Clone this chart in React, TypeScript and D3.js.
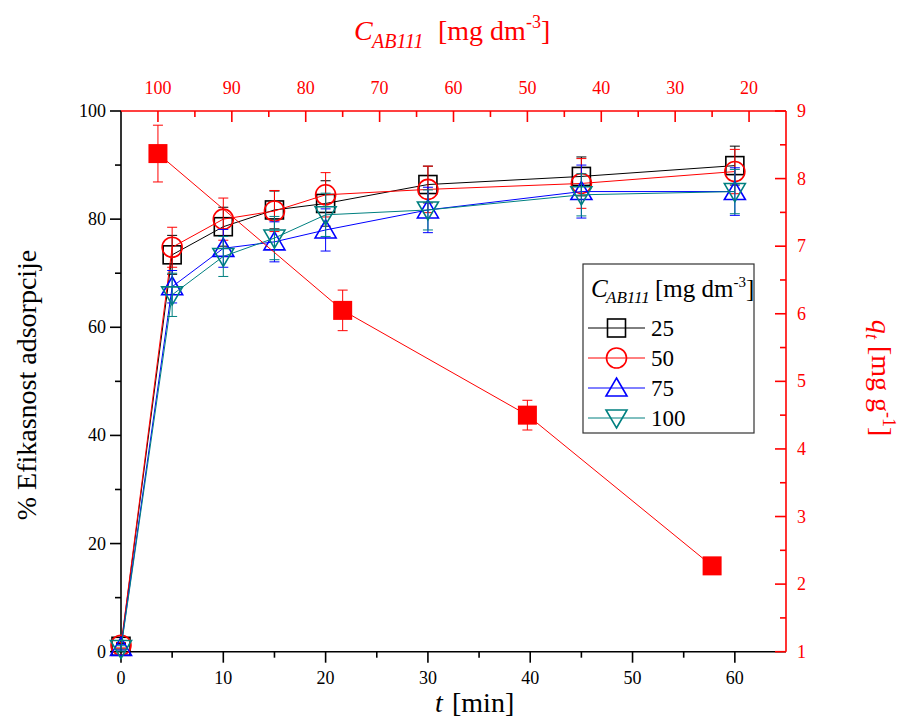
import React from "react";
import * as d3 from "d3";

// ---- data ----
const times = [0, 5, 10, 15, 20, 30, 45, 60];
const eff25 = [1.0, 73.4, 78.6, 81.7, 82.9, 86.4, 87.9, 89.9];
const err25 = [0.5, 3.6, 3.6, 3.5, 4.2, 3.4, 3.6, 3.6];
const eff50 = [1.2, 74.8, 80.0, 81.5, 84.5, 85.5, 86.6, 88.8];
const err50 = [0.5, 3.7, 3.9, 3.8, 4.1, 4.3, 4.6, 4.1];
const eff75 = [0.8, 67.5, 74.6, 75.8, 78.0, 81.7, 85.1, 85.1];
const err75 = [0.5, 3.0, 3.5, 3.7, 3.9, 4.2, 4.9, 4.4];
const eff100 = [0.6, 66.0, 73.1, 76.5, 80.8, 81.7, 84.5, 85.1];
const err100 = [0.5, 4.0, 3.7, 4.0, 4.0, 3.7, 3.9, 4.1];

const concC = [100, 75, 50, 25];
const qt = [8.37, 6.05, 4.5, 2.27];
const qtErr = [0.42, 0.3, 0.22, 0.05];

const bottomTicks = [0, 10, 20, 30, 40, 50, 60];
const bottomMinor = [5, 15, 25, 35, 45, 55];
const leftTicks = [0, 20, 40, 60, 80, 100];
const leftMinor = [10, 30, 50, 70, 90];
const topTicks = [100, 90, 80, 70, 60, 50, 40, 30, 20];
const topMinor = [95, 85, 75, 65, 55, 45, 35, 25];
const rightTicks = [1, 2, 3, 4, 5, 6, 7, 8, 9];
const rightMinor = [1.5, 2.5, 3.5, 4.5, 5.5, 6.5, 7.5, 8.5];

const legendLabels = ["25", "50", "75", "100"];

const FONT = "'Liberation Serif', 'Times New Roman', 'DejaVu Serif', serif";
const RED = "#ff0000";

const L = 121, R = 786, T = 111, B = 651.7;
const x = d3.scaleLinear().domain([0, 65]).range([L, R]);
const xTop = d3.scaleLinear().domain([105, 15]).range([L, R]);
const y = d3.scaleLinear().domain([0, 100]).range([B, T]);
const yR = d3.scaleLinear().domain([1, 9]).range([B, T]);

type Shape = "square" | "circle" | "up" | "down";
const series: { vals: number[]; errs: number[]; color: string; shape: Shape }[] = [
  { vals: eff25, errs: err25, color: "#000000", shape: "square" },
  { vals: eff50, errs: err50, color: "#ff0000", shape: "circle" },
  { vals: eff75, errs: err75, color: "#0000ff", shape: "up" },
  { vals: eff100, errs: err100, color: "#008080", shape: "down" },
];

function Marker({ shape, cx, cy, color }: { shape: Shape; cx: number; cy: number; color: string }) {
  const sw = 1.6;
  if (shape === "square")
    return <rect x={cx - 9} y={cy - 9} width={18} height={18} fill="none" stroke={color} strokeWidth={sw} />;
  if (shape === "circle") return <circle cx={cx} cy={cy} r={10} fill="none" stroke={color} strokeWidth={sw} />;
  if (shape === "up")
    return (
      <polygon
        points={`${cx},${cy - 10} ${cx + 10.5},${cy + 8} ${cx - 10.5},${cy + 8}`}
        fill="none"
        stroke={color}
        strokeWidth={sw}
      />
    );
  return (
    <polygon
      points={`${cx},${cy + 10} ${cx + 10.5},${cy - 8} ${cx - 10.5},${cy - 8}`}
      fill="none"
      stroke={color}
      strokeWidth={sw}
    />
  );
}

function ErrBar({ cx, y1, y2, color }: { cx: number; y1: number; y2: number; color: string }) {
  return (
    <g stroke={color} strokeWidth={1}>
      <line x1={cx} x2={cx} y1={y1} y2={y2} />
      <line x1={cx - 5} x2={cx + 5} y1={y1} y2={y1} />
      <line x1={cx - 5} x2={cx + 5} y1={y2} y2={y2} />
    </g>
  );
}

export default function App() {
  const line = d3
    .line<number>()
    .x((_, i) => x(times[i]))
    .y((v) => y(v));
  const qLine = d3
    .line<number>()
    .x((_, i) => xTop(concC[i]))
    .y((v) => yR(v));

  const legX = 583, legY = 264, legW = 171, legH = 169;
  const rowY = [328, 358, 388, 418];

  return (
    <svg
      width={900}
      height={719}
      style={{ position: "absolute", left: 0, top: 0, background: "#fff", fontFamily: FONT }}
      fontFamily={FONT}
    >
      <style>{`text, tspan { font-family: ${FONT}; }`}</style>
      <rect x={0} y={0} width={900} height={719} fill="#fff" />

      {/* bottom axis */}
      <line x1={L} x2={R} y1={B} y2={B} stroke="#000" strokeWidth={1.6} />
      {bottomTicks.map((t) => (
        <g key={"bt" + t}>
          <line x1={x(t)} x2={x(t)} y1={B} y2={B + 11} stroke="#000" strokeWidth={1.6} />
          <text x={x(t)} y={684} textAnchor="middle" fontSize={18}>{t}</text>
        </g>
      ))}
      {bottomMinor.map((t) => (
        <line key={"bm" + t} x1={x(t)} x2={x(t)} y1={B} y2={B + 6} stroke="#000" strokeWidth={1.6} />
      ))}

      {/* left axis */}
      <line x1={L} x2={L} y1={T} y2={B} stroke="#000" strokeWidth={1.6} />
      {leftTicks.map((v) => (
        <g key={"lt" + v}>
          <line x1={L - 11} x2={L} y1={y(v)} y2={y(v)} stroke="#000" strokeWidth={1.6} />
          <text x={106} y={y(v) + 6} textAnchor="end" fontSize={18}>{v}</text>
        </g>
      ))}
      {leftMinor.map((v) => (
        <line key={"lm" + v} x1={L - 6} x2={L} y1={y(v)} y2={y(v)} stroke="#000" strokeWidth={1.6} />
      ))}

      {/* top axis (red) */}
      <line x1={L} x2={R} y1={T} y2={T} stroke={RED} strokeWidth={1.6} />
      {topTicks.map((c) => (
        <g key={"tt" + c}>
          <line x1={xTop(c)} x2={xTop(c)} y1={T} y2={T + 11} stroke={RED} strokeWidth={1.6} />
          <text x={xTop(c)} y={94} textAnchor="middle" fontSize={18} fill={RED}>{c}</text>
        </g>
      ))}
      {topMinor.map((c) => (
        <line key={"tm" + c} x1={xTop(c)} x2={xTop(c)} y1={T} y2={T + 6} stroke={RED} strokeWidth={1.6} />
      ))}

      {/* right axis (red) */}
      <line x1={R} x2={R} y1={T} y2={B} stroke={RED} strokeWidth={1.6} />
      {rightTicks.map((q) => (
        <g key={"rt" + q}>
          <line x1={R - 11} x2={R} y1={yR(q)} y2={yR(q)} stroke={RED} strokeWidth={1.6} />
          <text x={797} y={yR(q) + 6} textAnchor="start" fontSize={18} fill={RED}>{q}</text>
        </g>
      ))}
      {rightMinor.map((q) => (
        <line key={"rm" + q} x1={R - 6} x2={R} y1={yR(q)} y2={yR(q)} stroke={RED} strokeWidth={1.6} />
      ))}

      {/* efficiency series */}
      {series.map((s, si) => (
        <g key={"s" + si}>
          <path d={line(s.vals) || ""} fill="none" stroke={s.color} strokeWidth={1} />
          {s.vals.map((v, i) => (
            <ErrBar key={"e" + i} cx={x(times[i])} y1={y(v + s.errs[i])} y2={y(v - s.errs[i])} color={s.color} />
          ))}
          {s.vals.map((v, i) => (
            <Marker key={"m" + i} shape={s.shape} cx={x(times[i])} cy={y(v)} color={s.color} />
          ))}
        </g>
      ))}

      {/* q_t series */}
      <path d={qLine(qt) || ""} fill="none" stroke={RED} strokeWidth={1} />
      {qt.map((q, i) => (
        <g key={"q" + i}>
          <ErrBar cx={xTop(concC[i])} y1={yR(q + qtErr[i])} y2={yR(q - qtErr[i])} color={RED} />
          <rect x={xTop(concC[i]) - 9.5} y={yR(q) - 9.5} width={19} height={19} fill={RED} />
        </g>
      ))}

      {/* legend */}
      <rect x={legX} y={legY} width={legW} height={legH} fill="#fff" stroke="#333" strokeWidth={1.2} />
      <text y={297} fontSize={25}>
        <tspan x={591} fontStyle="italic">C</tspan>
        <tspan x={606} dy={6} fontSize={17} fontStyle="italic">AB111</tspan>
        <tspan x={655} dy={-6}>[mg dm</tspan>
        <tspan dy={-10} fontSize={15}>-3</tspan>
        <tspan dy={10}>]</tspan>
      </text>
      {series.map((s, i) => (
        <g key={"lg" + i}>
          <line x1={588} x2={645} y1={rowY[i]} y2={rowY[i]} stroke={s.color} strokeWidth={1} />
          <Marker shape={s.shape} cx={616.5} cy={rowY[i]} color={s.color} />
          <text x={651} y={rowY[i] + 8} fontSize={23}>{legendLabels[i]}</text>
        </g>
      ))}

      {/* axis titles */}
      <text y={40} fontSize={28} fill={RED}>
        <tspan x={354} fontStyle="italic">C</tspan>
        <tspan x={372} dy={8} fontSize={20} fontStyle="italic">AB111</tspan>
        <tspan x={438} dy={-8}>[mg dm</tspan>
        <tspan dy={-12} fontSize={18}>-3</tspan>
        <tspan dy={12}>]</tspan>
      </text>
      <text y={712} fontSize={28}>
        <tspan x={435} fontStyle="italic">t</tspan>
        <tspan x={452}>[min]</tspan>
      </text>
      <text transform="translate(36,385) rotate(-90)" textAnchor="middle" fontSize={28}>
        % Efikasnost adsorpcije
      </text>
      <text transform="translate(872,378) rotate(90)" textAnchor="middle" fontSize={28} fill={RED}>
        <tspan fontStyle="italic">q</tspan>
        <tspan dy={6} fontSize={19} fontStyle="italic">t</tspan>
        <tspan dy={-6}> [mg g</tspan>
        <tspan dy={-11} fontSize={18}>-1</tspan>
        <tspan dy={11}>]</tspan>
      </text>
    </svg>
  );
}
